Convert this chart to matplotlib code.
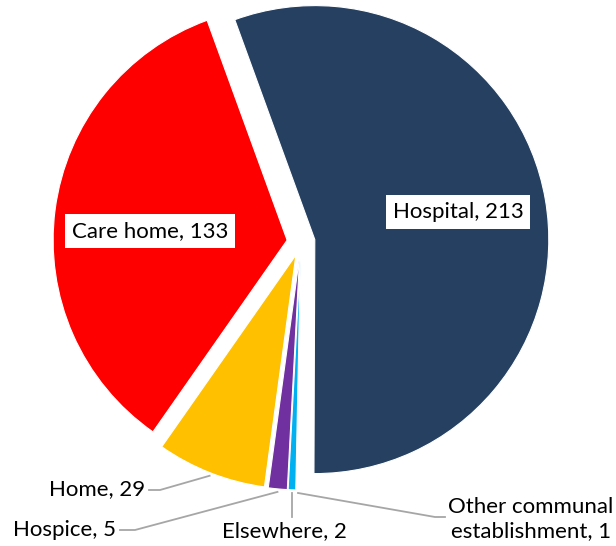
import math
import matplotlib
matplotlib.use("Agg")
import matplotlib.pyplot as plt

# place of death counts
places = ["Hospital", "Other communal\nestablishment", "Elsewhere", "Hospice", "Home", "Care home"]
deaths = [213, 1, 2, 5, 29, 133]
colours = ["#264061", "#ffffff", "#00b0f0", "#7030a0", "#ffc000", "#ff0000"]

plt.rcParams['font.family'] = ['Lato', 'DejaVu Sans']

fig = plt.figure(figsize=(6.16, 5.46), dpi=100)
ax = fig.add_axes([0, 0, 1, 1])

wedges, _ = ax.pie(deaths, colors=colours, startangle=110, counterclock=False,
                   center=(301, 304), radius=234, explode=[14] * len(deaths),
                   wedgeprops=dict(edgecolor='white', linewidth=0.8))
# pie resets the limits, so set the pixel-like frame afterwards
ax.set_xlim(0, 616)
ax.set_ylim(0, 546)
ax.set_aspect('equal')
ax.axis('off')


def outer_point(w, extra=3):
    mid = math.radians((w.theta1 + w.theta2) / 2)
    cx, cy = w.center
    return cx + (w.r + extra) * math.cos(mid), cy + (w.r + extra) * math.sin(mid)


fs = 16
box = dict(boxstyle='square,pad=0.3', fc='white', ec='none')
ax.text(458, 334, f"{places[0]}, {deaths[0]}", fontsize=fs, ha='center', va='center', bbox=box)
ax.text(150, 315, f"{places[5]}, {deaths[5]}", fontsize=fs, ha='center', va='center', bbox=box)

grey = "#a6a6a6"
# Home
px, py = outer_point(wedges[4])
ax.plot([149, 160, px], [56, 56, py], color=grey, lw=1.3)
ax.text(145, 57, f"{places[4]}, {deaths[4]}", fontsize=fs, ha='right', va='center')
# Hospice
px, py = outer_point(wedges[3])
ax.plot([120, 135, px], [16, 16, py], color=grey, lw=1.3)
ax.text(116, 16, f"{places[3]}, {deaths[3]}", fontsize=fs, ha='right', va='center')
# Elsewhere
px, py = outer_point(wedges[2])
ax.plot([px, px], [29, py], color=grey, lw=1.3)
ax.text(284, 15, f"{places[2]}, {deaths[2]}", fontsize=fs, ha='center', va='center')
# Other communal establishment
px, py = outer_point(wedges[1])
ax.plot([445, 435, px], [29, 29, py], color=grey, lw=1.3)
ax.text(448, 27, f"{places[1]}, {deaths[1]}", fontsize=fs, ha='left', va='center',
        multialignment='center', linespacing=1.2)

fig.savefig("out.png", dpi=100)
